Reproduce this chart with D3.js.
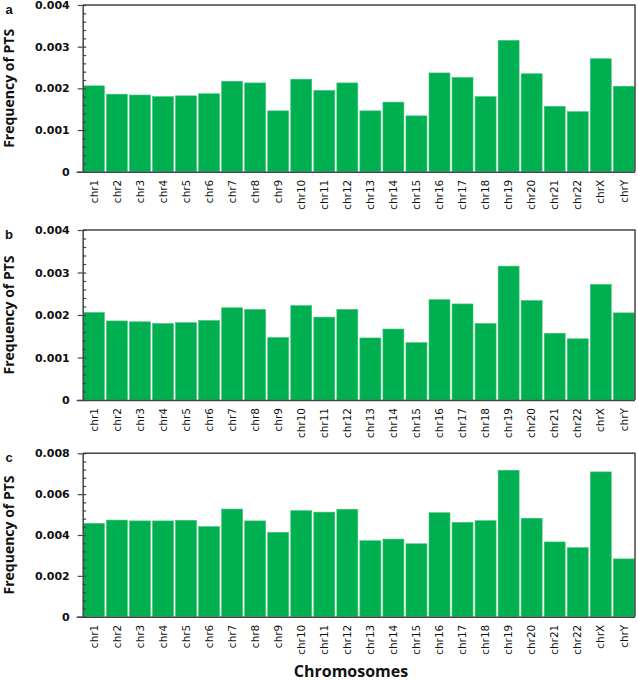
<!DOCTYPE html>
<html>
<head>
<meta charset="utf-8">
<script src="https://cdn.jsdelivr.net/npm/d3@7"></script>
<style>
  html, body { margin: 0; padding: 0; background: #fff; }
  svg { display: block; }
</style>
</head>
<body>
<svg id="chart" width="638" height="682"></svg>
<script>
const categories = ["chr1","chr2","chr3","chr4","chr5","chr6","chr7","chr8","chr9","chr10","chr11","chr12",
  "chr13","chr14","chr15","chr16","chr17","chr18","chr19","chr20","chr21","chr22","chrX","chrY"];

const seriesA = [0.00206,0.00186,0.00184,0.00180,0.00182,0.00187,0.00217,0.00213,0.00146,0.00222,0.00195,0.00213,
  0.00146,0.00167,0.00134,0.00237,0.00226,0.00180,0.00315,0.00235,0.00157,0.00144,0.00271,0.00205];

const seriesB = [0.00206,0.00186,0.00184,0.00180,0.00182,0.00187,0.00217,0.00213,0.00147,0.00222,0.00195,0.00213,
  0.00146,0.00167,0.00135,0.00236,0.00226,0.00180,0.00315,0.00234,0.00157,0.00144,0.00272,0.00205];

const seriesC = [0.00457,0.00473,0.00469,0.00469,0.00472,0.00441,0.00527,0.00469,0.00413,0.00519,0.00512,0.00526,
  0.00372,0.00380,0.00357,0.00509,0.00462,0.00470,0.00717,0.00482,0.00366,0.00338,0.00709,0.00283];

const ticksAB = [0, 0.001, 0.002, 0.003, 0.004];
const ticksC = [0, 0.002, 0.004, 0.006, 0.008];

const panelLetters = ["a", "b", "c"];
const yTitle = "Frequency of PTS";
const xTitle = "Chromosomes";

const svg = d3.select("#chart");
const left = 82.7, right = 635;
const barColor = "#00b050";
const frameColor = "#444";

const panels = [
  { letter: panelLetters[0], data: seriesA, ticks: ticksAB, top: 5, bottom: 171.7, minorStep: 0.0002 },
  { letter: panelLetters[1], data: seriesB, ticks: ticksAB, top: 230, bottom: 400, minorStep: 0.0002 },
  { letter: panelLetters[2], data: seriesC, ticks: ticksC, top: 453.3, bottom: 616.7, minorStep: 0.0004 }
];

const x = d3.scaleBand().domain(categories).range([left, right]).paddingInner(0.09).paddingOuter(0.03);

panels.forEach(p => {
  const maxV = p.ticks[p.ticks.length - 1];
  const y = d3.scaleLinear().domain([0, maxV]).range([p.bottom, p.top]);
  const g = svg.append("g");

  // bars
  g.selectAll("rect.bar").data(p.data).join("rect")
    .attr("class", "bar")
    .attr("x", (d, i) => x(categories[i]))
    .attr("width", x.bandwidth())
    .attr("y", d => y(d))
    .attr("height", d => y(0) - y(d))
    .attr("fill", barColor)
    .attr("stroke", "#3cc476")
    .attr("stroke-width", 0.6);

  // frame (top and right)
  g.append("path")
    .attr("d", `M${left},${p.top}H${right}V${p.bottom}`)
    .attr("fill", "none").attr("stroke", frameColor).attr("stroke-width", 1.5);

  // minor ticks (inside)
  const n = Math.round(maxV / p.minorStep);
  const minor = d3.range(n + 1).map(i => +(i * p.minorStep).toFixed(6));
  g.append("g")
    .attr("transform", `translate(${left},0)`)
    .call(d3.axisRight(y).tickValues(minor).tickSize(3.5).tickFormat(""))
    .call(a => a.select(".domain").remove())
    .call(a => a.selectAll("line").attr("stroke", frameColor).attr("stroke-width", 1.2));

  // y axis with major ticks and labels
  g.append("g")
    .attr("transform", `translate(${left},0)`)
    .call(d3.axisLeft(y).tickValues(p.ticks).tickSizeInner(5).tickSizeOuter(0).tickPadding(8)
      .tickFormat(d => d === 0 ? "0" : d3.format(".3f")(d)))
    .call(a => a.select(".domain").attr("stroke", frameColor).attr("stroke-width", 1.5))
    .call(a => a.selectAll("line").attr("stroke", frameColor).attr("stroke-width", 1.2))
    .call(a => a.selectAll("text").attr("font-family", "DejaVu Sans").attr("font-weight", "bold")
      .attr("font-size", "11px").attr("fill", "#111"));

  // x axis
  g.append("g")
    .attr("transform", `translate(0,${p.bottom})`)
    .call(d3.axisBottom(x).tickSize(0).tickPadding(0))
    .call(a => a.select(".domain").attr("d", `M${left - 6},0.5H${right}`)
      .attr("stroke", frameColor).attr("stroke-width", 1.5))
    .call(a => a.selectAll("text")
      .attr("font-family", "DejaVu Sans").attr("font-size", "10.5px").attr("fill", "#111")
      .attr("transform", "rotate(-90)")
      .attr("text-anchor", "end")
      .attr("x", -8).attr("y", 0).attr("dy", "0.35em"));

  // y title
  svg.append("text")
    .attr("transform", `translate(14,${(p.top + p.bottom) / 2}) rotate(-90)`)
    .attr("text-anchor", "middle")
    .attr("font-family", "Open Sans").attr("font-weight", "bold").attr("font-size", "14px")
    .attr("fill", "#111")
    .text(yTitle);

  // panel letter
  svg.append("text")
    .attr("x", 9).attr("y", p.top + 8.5)
    .attr("text-anchor", "middle")
    .attr("font-family", "Liberation Sans").attr("font-weight", "bold").attr("font-size", "13px")
    .attr("fill", "#111")
    .text(p.letter);
});

svg.append("text")
  .attr("x", 351).attr("y", 676.5)
  .attr("text-anchor", "middle")
  .attr("font-family", "Open Sans").attr("font-weight", "bold").attr("font-size", "16px")
  .attr("fill", "#111")
  .text(xTitle);
</script>
</body>
</html>
